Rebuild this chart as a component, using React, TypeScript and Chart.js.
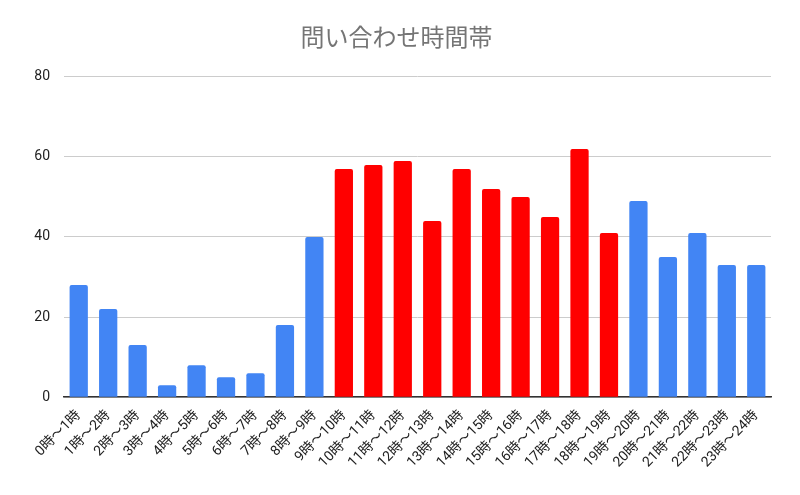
import { useEffect, useRef } from 'react';
import Chart from 'chart.js/auto';

const hours = Array.from({ length: 24 }, (_, i) => `${i}時〜${i + 1}時`);
const inquiries = [28, 22, 13, 3, 8, 5, 6, 18, 40, 57, 58, 59, 44, 57, 52, 50, 45, 62, 41, 49, 35, 41, 33, 33];
// business-hours slots shown in red
const peakFrom = 9;
const peakTo = 18;

const FONT = 'Roboto, "Noto Sans CJK JP", sans-serif';

const App = () => {
    const canvas = useRef<HTMLCanvasElement>(null);

    useEffect(() => {
        document.body.style.margin = '0';

        const chart = new Chart(
            // @ts-expect-error next
            canvas.current,
            {
                type: 'bar',
                data: {
                    labels: hours,
                    datasets: [{
                        label: '問い合わせ数',
                        data: inquiries,
                        backgroundColor: inquiries.map((_, i) => (i >= peakFrom && i <= peakTo ? '#ff0000' : '#4285f4')),
                        borderRadius: { topLeft: 2, topRight: 2, bottomLeft: 0, bottomRight: 0 },
                        borderSkipped: 'bottom',
                        categoryPercentage: 1,
                        barPercentage: 0.62
                    }]
                },
                options: {
                    animation: false,
                    responsive: false,
                    maintainAspectRatio: false,
                    layout: {
                        padding: { left: 22, right: 29, top: 0, bottom: 22 }
                    },
                    plugins: {
                        legend: { display: false },
                        tooltip: { enabled: false },
                        title: {
                            display: true,
                            text: '問い合わせ時間帯',
                            color: '#757575',
                            font: { family: FONT, size: 24, weight: 'normal' },
                            padding: { top: 26, bottom: 22 }
                        }
                    },
                    scales: {
                        x: {
                            grid: { display: false },
                            border: { color: '#333333', width: 1.5 },
                            ticks: {
                                color: '#222222',
                                font: { family: FONT, size: 14 },
                                minRotation: 45,
                                maxRotation: 45,
                                autoSkip: false,
                                padding: 2
                            }
                        },
                        y: {
                            min: 0,
                            max: 80,
                            grid: { color: '#cccccc', drawTicks: false },
                            border: { display: false },
                            afterFit: (scale) => {
                                scale.width = 42;
                            },
                            ticks: {
                                stepSize: 20,
                                color: '#222222',
                                font: { family: FONT, size: 14 },
                                padding: 14
                            }
                        }
                    }
                }
            }
        );

        return () => {
            chart.destroy();
        };
    }, []);

    return (
        <div style={{ width: 800, height: 495 }}>
            <canvas ref={canvas} width={800} height={495} aria-label="問い合わせ時間帯" role="img"></canvas>
        </div>
    );
};

export default App;
